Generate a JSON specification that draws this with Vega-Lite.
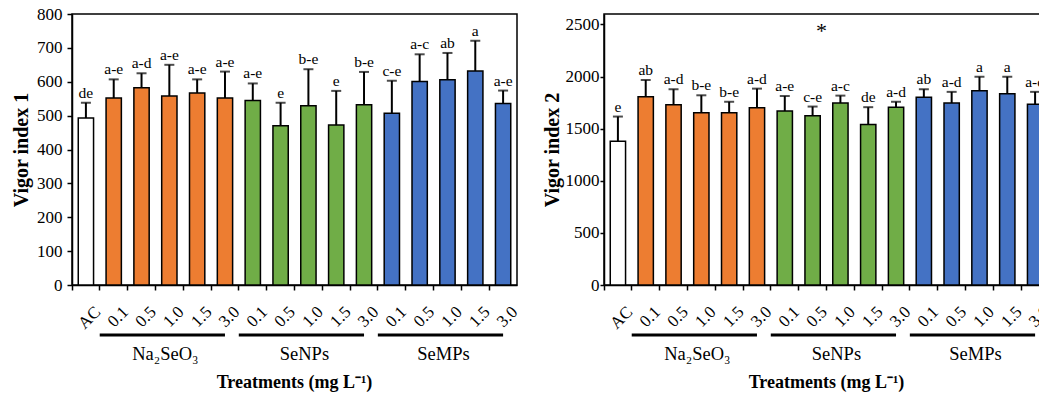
{
  "$schema": "https://vega.github.io/schema/vega-lite/v6.json",
  "padding": {"left": 10, "top": 4, "right": 0, "bottom": 0},
  "background": "white",
  "config": {
    "font": "Liberation Serif",
    "view": {"stroke": "black", "strokeWidth": 1.5},
    "axis": {"domainColor": "black", "domainWidth": 1.5, "tickColor": "black", "tickWidth": 1.5, "labelColor": "black", "titleColor": "black", "labelFont": "Liberation Serif", "titleFont": "Liberation Serif", "labelFontSize": 17, "titleFontSize": 20, "titleFontWeight": "bold", "grid": false, "tickSize": 5},
    "title": {"font": "Liberation Serif", "color": "black"},
    "text": {"font": "Liberation Serif", "color": "black"}
  },
  "datasets": {
    "v1": [
      {"id": "AC", "grp": "AC", "mean": 493, "upper": 538, "sig": "de"},
      {"id": "N0.1", "grp": "Na", "mean": 552, "upper": 607, "sig": "a-e"},
      {"id": "N0.5", "grp": "Na", "mean": 582, "upper": 625, "sig": "a-d"},
      {"id": "N1.0", "grp": "Na", "mean": 558, "upper": 650, "sig": "a-e"},
      {"id": "N1.5", "grp": "Na", "mean": 567, "upper": 607, "sig": "a-e"},
      {"id": "N3.0", "grp": "Na", "mean": 552, "upper": 630, "sig": "a-e"},
      {"id": "P0.1", "grp": "NP", "mean": 545, "upper": 595, "sig": "a-e"},
      {"id": "P0.5", "grp": "NP", "mean": 470, "upper": 538, "sig": "e"},
      {"id": "P1.0", "grp": "NP", "mean": 529, "upper": 637, "sig": "b-e"},
      {"id": "P1.5", "grp": "NP", "mean": 472, "upper": 573, "sig": "e"},
      {"id": "P3.0", "grp": "NP", "mean": 532, "upper": 629, "sig": "b-e"},
      {"id": "M0.1", "grp": "MP", "mean": 507, "upper": 603, "sig": "c-e"},
      {"id": "M0.5", "grp": "MP", "mean": 601, "upper": 681, "sig": "a-c"},
      {"id": "M1.0", "grp": "MP", "mean": 606, "upper": 685, "sig": "ab"},
      {"id": "M1.5", "grp": "MP", "mean": 632, "upper": 721, "sig": "a"},
      {"id": "M3.0", "grp": "MP", "mean": 536, "upper": 574, "sig": "a-e"}
    ],
    "v2": [
      {"id": "AC", "grp": "AC", "mean": 1379, "upper": 1616, "sig": "e"},
      {"id": "N0.1", "grp": "Na", "mean": 1807, "upper": 1967, "sig": "ab"},
      {"id": "N0.5", "grp": "Na", "mean": 1730, "upper": 1878, "sig": "a-d"},
      {"id": "N1.0", "grp": "Na", "mean": 1653, "upper": 1820, "sig": "b-e"},
      {"id": "N1.5", "grp": "Na", "mean": 1653, "upper": 1758, "sig": "b-e"},
      {"id": "N3.0", "grp": "Na", "mean": 1700, "upper": 1884, "sig": "a-d"},
      {"id": "P0.1", "grp": "NP", "mean": 1669, "upper": 1813, "sig": "a-e"},
      {"id": "P0.5", "grp": "NP", "mean": 1623, "upper": 1712, "sig": "c-e"},
      {"id": "P1.0", "grp": "NP", "mean": 1746, "upper": 1817, "sig": "a-c"},
      {"id": "P1.5", "grp": "NP", "mean": 1539, "upper": 1706, "sig": "de"},
      {"id": "P3.0", "grp": "NP", "mean": 1706, "upper": 1758, "sig": "a-d"},
      {"id": "M0.1", "grp": "MP", "mean": 1801, "upper": 1878, "sig": "ab"},
      {"id": "M0.5", "grp": "MP", "mean": 1746, "upper": 1853, "sig": "a-d"},
      {"id": "M1.0", "grp": "MP", "mean": 1863, "upper": 1998, "sig": "a"},
      {"id": "M1.5", "grp": "MP", "mean": 1835, "upper": 1998, "sig": "a"},
      {"id": "M3.0", "grp": "MP", "mean": 1733, "upper": 1853, "sig": "a-d"}
    ],
    "groups": [
      {"start": "N0.1", "end": "N3.0", "mid": "N1.0", "label": "Na₂SeO₃"},
      {"start": "P0.1", "end": "P3.0", "mid": "P1.0", "label": "SeNPs"},
      {"start": "M0.1", "end": "M3.0", "mid": "M1.0", "label": "SeMPs"}
    ],
    "note": [
      {"id": "P0.5", "value": 2440, "text": "*"}
    ]
  },
  "spacing": 19,
  "hconcat": [
    {
      "spacing": 0,
      "vconcat": [
        {
          "width": 445,
          "height": 271,
          "data": {"name": "v1"},
          "encoding": {
            "x": {
              "field": "id", "type": "nominal", "sort": null,
              "scale": {"domain": ["AC","N0.1","N0.5","N1.0","N1.5","N3.0","P0.1","P0.5","P1.0","P1.5","P3.0","M0.1","M0.5","M1.0","M1.5","M3.0"], "paddingInner": 0, "paddingOuter": 0},
              "axis": {"title": null, "bandPosition": 0, "labelAngle": -45, "labelAlign": "right", "labelBaseline": "middle", "labelOffset": 12, "labelPadding": 19, "labelExpr": "datum.value == 'AC' ? 'AC' : substring(datum.value, 1)"}
            }
          },
          "layer": [
            {
              "mark": {"type": "bar", "width": {"band": 0.55}, "stroke": "black", "strokeWidth": 1.5},
              "encoding": {
                "y": {"field": "mean", "type": "quantitative", "scale": {"domain": [0, 800]}, "axis": {"values": [0,100,200,300,400,500,600,700,800], "format": "d", "labelOverlap": false, "title": "Vigor index 1", "labelPadding": 5, "titlePadding": 5}},
                "fill": {"field": "grp", "type": "nominal", "scale": {"domain": ["AC","Na","NP","MP"], "range": ["#ffffff","#ED7D31","#70AD47","#4472C4"]}, "legend": null}
              }
            },
            {"mark": {"type": "rule", "color": "black", "strokeWidth": 2}, "encoding": {"y": {"field": "mean", "type": "quantitative", "axis": {"values": [0,100,200,300,400,500,600,700,800], "format": "d", "labelOverlap": false, "title": "Vigor index 1", "labelPadding": 5, "titlePadding": 5}}, "y2": {"field": "upper"}}},
            {"mark": {"type": "tick", "color": "black", "thickness": 2, "size": 10}, "encoding": {"y": {"field": "upper", "type": "quantitative", "axis": {"values": [0,100,200,300,400,500,600,700,800], "format": "d", "labelOverlap": false, "title": "Vigor index 1", "labelPadding": 5, "titlePadding": 5}}}},
            {"mark": {"type": "text", "baseline": "alphabetic", "dy": -5, "fontSize": 15.5}, "encoding": {"y": {"field": "upper", "type": "quantitative", "axis": {"values": [0,100,200,300,400,500,600,700,800], "format": "d", "labelOverlap": false, "title": "Vigor index 1", "labelPadding": 5, "titlePadding": 5}}, "text": {"field": "sig"}}}
          ]
        },
        {
          "width": 445,
          "height": 30,
          "view": {"stroke": null},
          "data": {"name": "groups"},
          "title": {"text": "Treatments (mg L⁻¹)", "orient": "bottom", "fontSize": 18, "fontWeight": "bold", "offset": 9},
          "layer": [
            {
              "mark": {"type": "rule", "color": "black", "strokeWidth": 3, "xOffset": -14, "x2Offset": 0},
              "encoding": {
                "x": {"field": "start", "type": "nominal", "scale": {"domain": ["AC","N0.1","N0.5","N1.0","N1.5","N3.0","P0.1","P0.5","P1.0","P1.5","P3.0","M0.1","M0.5","M1.0","M1.5","M3.0"], "paddingInner": 0, "paddingOuter": 0}, "axis": null},
                "x2": {"field": "end"},
                "y": {"datum": 1, "type": "quantitative", "scale": {"domain": [0, 1]}, "axis": null}
              }
            },
            {
              "mark": {"type": "text", "fontSize": 18.5, "dx": -4, "baseline": "middle"},
              "encoding": {
                "x": {"field": "mid", "type": "nominal", "axis": null},
                "y": {"datum": 0.36, "type": "quantitative"},
                "text": {"field": "label"}
              }
            }
          ]
        }
      ]
    },
    {
      "spacing": 0,
      "vconcat": [
        {
          "width": 445,
          "height": 271,
          "data": {"name": "v2"},
          "encoding": {
            "x": {
              "field": "id", "type": "nominal", "sort": null,
              "scale": {"domain": ["AC","N0.1","N0.5","N1.0","N1.5","N3.0","P0.1","P0.5","P1.0","P1.5","P3.0","M0.1","M0.5","M1.0","M1.5","M3.0"], "paddingInner": 0, "paddingOuter": 0},
              "axis": {"title": null, "bandPosition": 0, "labelAngle": -45, "labelAlign": "right", "labelBaseline": "middle", "labelOffset": 12, "labelPadding": 19, "labelExpr": "datum.value == 'AC' ? 'AC' : substring(datum.value, 1)"}
            }
          },
          "layer": [
            {
              "mark": {"type": "bar", "width": {"band": 0.55}, "stroke": "black", "strokeWidth": 1.5},
              "encoding": {
                "y": {"field": "mean", "type": "quantitative", "scale": {"domain": [0, 2500]}, "axis": {"values": [0,500,1000,1500,2000,2500], "format": "d", "labelOverlap": false, "title": "Vigor index 2", "labelPadding": 1, "tickSize": 4, "titlePadding": 3}},
                "fill": {"field": "grp", "type": "nominal", "scale": {"domain": ["AC","Na","NP","MP"], "range": ["#ffffff","#ED7D31","#70AD47","#4472C4"]}, "legend": null}
              }
            },
            {"mark": {"type": "rule", "color": "black", "strokeWidth": 2}, "encoding": {"y": {"field": "mean", "type": "quantitative", "axis": {"values": [0,500,1000,1500,2000,2500], "format": "d", "labelOverlap": false, "title": "Vigor index 2", "labelPadding": 1, "tickSize": 4, "titlePadding": 3}}, "y2": {"field": "upper"}}},
            {"mark": {"type": "tick", "color": "black", "thickness": 2, "size": 10}, "encoding": {"y": {"field": "upper", "type": "quantitative", "axis": {"values": [0,500,1000,1500,2000,2500], "format": "d", "labelOverlap": false, "title": "Vigor index 2", "labelPadding": 1, "tickSize": 4, "titlePadding": 3}}}},
            {"mark": {"type": "text", "baseline": "alphabetic", "dy": -5, "fontSize": 15.5}, "encoding": {"y": {"field": "upper", "type": "quantitative", "axis": {"values": [0,500,1000,1500,2000,2500], "format": "d", "labelOverlap": false, "title": "Vigor index 2", "labelPadding": 1, "tickSize": 4, "titlePadding": 3}}, "text": {"field": "sig"}}},
            {"data": {"name": "note"}, "mark": {"type": "text", "fontSize": 22, "dx": 9, "baseline": "middle"}, "encoding": {"y": {"field": "value", "type": "quantitative", "axis": {"values": [0,500,1000,1500,2000,2500], "format": "d", "labelOverlap": false, "title": "Vigor index 2", "labelPadding": 1, "tickSize": 4, "titlePadding": 3}}, "text": {"field": "text"}}}
          ]
        },
        {
          "width": 445,
          "height": 30,
          "view": {"stroke": null},
          "data": {"name": "groups"},
          "title": {"text": "Treatments (mg L⁻¹)", "orient": "bottom", "fontSize": 18, "fontWeight": "bold", "offset": 9},
          "layer": [
            {
              "mark": {"type": "rule", "color": "black", "strokeWidth": 3, "xOffset": -14, "x2Offset": 0},
              "encoding": {
                "x": {"field": "start", "type": "nominal", "scale": {"domain": ["AC","N0.1","N0.5","N1.0","N1.5","N3.0","P0.1","P0.5","P1.0","P1.5","P3.0","M0.1","M0.5","M1.0","M1.5","M3.0"], "paddingInner": 0, "paddingOuter": 0}, "axis": null},
                "x2": {"field": "end"},
                "y": {"datum": 1, "type": "quantitative", "scale": {"domain": [0, 1]}, "axis": null}
              }
            },
            {
              "mark": {"type": "text", "fontSize": 18.5, "dx": -4, "baseline": "middle"},
              "encoding": {
                "x": {"field": "mid", "type": "nominal", "axis": null},
                "y": {"datum": 0.36, "type": "quantitative"},
                "text": {"field": "label"}
              }
            }
          ]
        }
      ]
    }
  ]
}
